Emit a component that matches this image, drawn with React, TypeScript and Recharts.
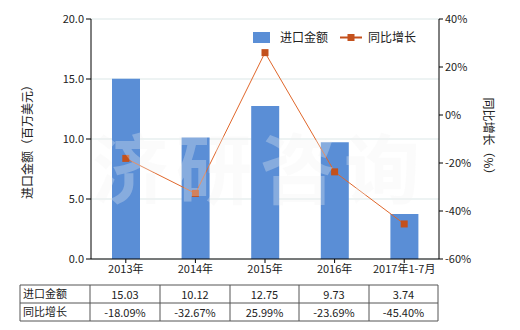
import React from 'react';
import { ComposedChart, Bar, Line, XAxis, YAxis, CartesianGrid } from 'recharts';

const categories = ['2013年', '2014年', '2015年', '2016年', '2017年1-7月'];
const importValues = [15.03, 10.12, 12.75, 9.73, 3.74];
const growthValues = [-18.09, -32.67, 25.99, -23.69, -45.4];
const leftTicks = [0, 5, 10, 15, 20];
const rightTicks = [-60, -40, -20, 0, 20, 40];
const seriesNames = ['进口金额', '同比增长'];

const data = categories.map((c, i) => ({ name: c, imp: importValues[i], growth: growthValues[i] }));

const FONT = '"Noto Sans CJK SC", "DejaVu Sans", sans-serif';
const BAR = '#5a8ed6';
const LINE = '#e0672b';
const MARK = '#c4511c';

const SquareDot = (props: any) => {
  const { cx, cy } = props;
  if (cx == null || cy == null) return null;
  return <rect x={cx - 3.5} y={cy - 3.5} width={7} height={7} fill={MARK} />;
};

const tickStyle = { fontSize: 11, fill: '#222', fontFamily: FONT };

export default function App() {
  const colX = [20, 90, 160, 230, 299, 369, 438];
  const rowY = [285, 303, 321];
  return (
    <div style={{ position: 'absolute', left: 0, top: 0, width: 520, height: 330, background: '#fff', fontFamily: FONT }}>
      <ComposedChart
        width={520}
        height={330}
        data={data}
        margin={{ top: 19, right: 0, left: 0, bottom: 51 }}
        barCategoryGap={0}
      >
        <CartesianGrid vertical={false} stroke="#dbe7e7" yAxisId="left" />
        <XAxis
          dataKey="name"
          height={20}
          tick={tickStyle}
          tickLine={{ stroke: '#000' }}
          axisLine={{ stroke: '#000' }}
          tickSize={4}
          interval={0}
        />
        <YAxis
          yAxisId="left"
          width={91}
          domain={[0, 20]}
          ticks={leftTicks}
          tickFormatter={(v: number) => v.toFixed(1)}
          tick={tickStyle}
          tickLine={{ stroke: '#000' }}
          axisLine={{ stroke: '#000' }}
          tickSize={5}
          label={{ value: '进口金额（百万美元）', angle: -90, position: 'insideLeft', offset: 28, style: { fontSize: 12, fill: '#222', fontFamily: FONT, textAnchor: 'middle' } }}
        />
        <YAxis
          yAxisId="right"
          orientation="right"
          width={81}
          domain={[-60, 40]}
          ticks={rightTicks}
          tickFormatter={(v: number) => `${v}%`}
          tick={tickStyle}
          tickLine={{ stroke: '#000' }}
          axisLine={{ stroke: '#000' }}
          tickSize={4}
          label={{ value: '同比增长（%）', angle: 90, position: 'insideRight', offset: 32, style: { fontSize: 12, fill: '#222', fontFamily: FONT, textAnchor: 'middle' } }}
        />
        <Bar yAxisId="left" dataKey="imp" fill={BAR} barSize={28} isAnimationActive={false} />
        <Line
          yAxisId="right"
          dataKey="growth"
          stroke={LINE}
          strokeWidth={1}
          dot={<SquareDot />}
          activeDot={false}
          isAnimationActive={false}
        />
      </ComposedChart>
      <svg width={520} height={330} style={{ position: 'absolute', left: 0, top: 0, pointerEvents: 'none' }}>
        <text x={92} y={198} fontSize={76} fontWeight="bold" fill="#f2f2f2" fillOpacity={0.3} letterSpacing={8} fontFamily={FONT}>
          济研咨询
        </text>
        <rect x={253} y={32} width={17} height={11} fill={BAR} />
        <text x={280} y={42} fontSize={12} fill="#222" fontFamily={FONT}>{seriesNames[0]}</text>
        <line x1={340} x2={362} y1={37.5} y2={37.5} stroke={MARK} strokeWidth={2} />
        <rect x={347.5} y={34} width={7} height={7} fill={MARK} />
        <text x={368} y={42} fontSize={12} fill="#222" fontFamily={FONT}>{seriesNames[1]}</text>
        {rowY.map((y) => (
          <line key={'h' + y} x1={colX[0]} x2={colX[colX.length - 1]} y1={y} y2={y} stroke="#555" strokeWidth={1} />
        ))}
        {colX.map((x) => (
          <line key={'v' + x} x1={x} x2={x} y1={rowY[0]} y2={rowY[2]} stroke="#555" strokeWidth={1} />
        ))}
        <text x={23} y={298} fontSize={11} fill="#222" fontFamily={FONT}>{seriesNames[0]}</text>
        <text x={23} y={316} fontSize={11} fill="#222" fontFamily={FONT}>{seriesNames[1]}</text>
        {importValues.map((v, i) => (
          <text key={'a' + i} x={(colX[i + 1] + colX[i + 2]) / 2} y={299} fontSize={11} textAnchor="middle" fill="#222" fontFamily={FONT}>
            {v.toFixed(2)}
          </text>
        ))}
        {growthValues.map((v, i) => (
          <text key={'b' + i} x={(colX[i + 1] + colX[i + 2]) / 2} y={317} fontSize={11} textAnchor="middle" fill="#222" fontFamily={FONT}>
            {v.toFixed(2)}%
          </text>
        ))}
      </svg>
    </div>
  );
}
